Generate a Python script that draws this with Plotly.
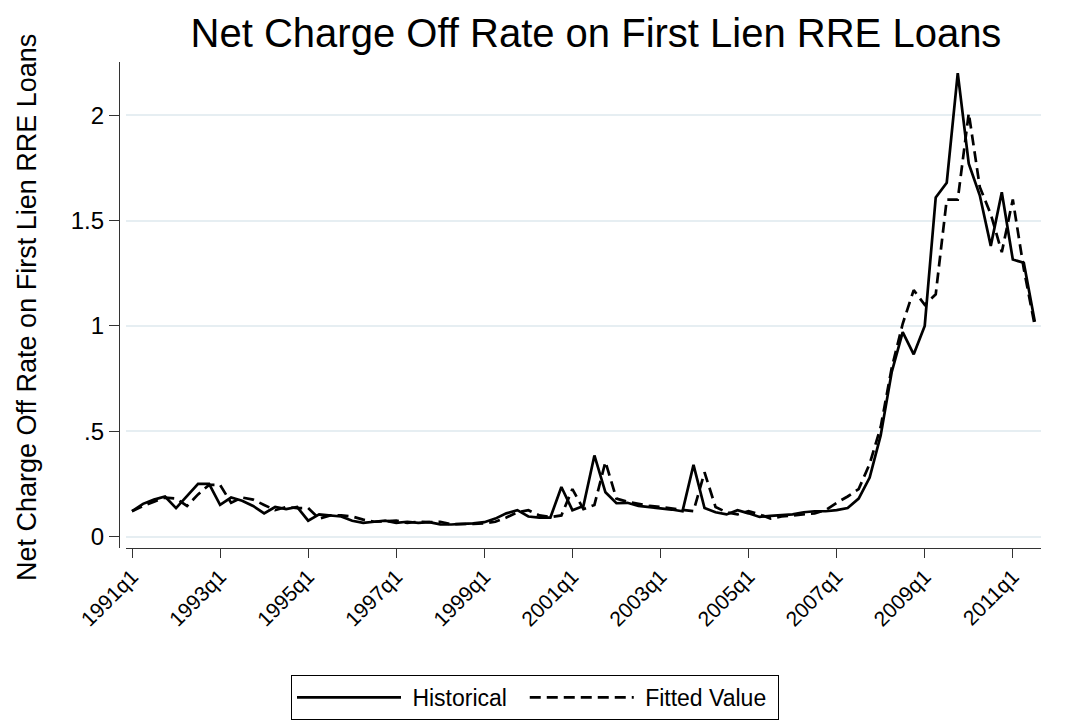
import plotly.graph_objects as go

W, H = 1065, 725

# quarters 1991q1 .. 2011q3
quarters = [f"{y}q{q}" for y in range(1991, 2012) for q in range(1, 5)][:83]

historical = [
    0.12, 0.155, 0.175, 0.19, 0.135, 0.19, 0.25, 0.25,
    0.15, 0.185, 0.17, 0.145, 0.11, 0.14, 0.13, 0.14,
    0.075, 0.105, 0.10, 0.095, 0.075, 0.065, 0.07, 0.075,
    0.065, 0.07, 0.065, 0.068, 0.058, 0.057, 0.06, 0.062,
    0.068, 0.085, 0.11, 0.125, 0.095, 0.09, 0.09, 0.235,
    0.125, 0.145, 0.385, 0.21, 0.158, 0.16, 0.145, 0.14,
    0.135, 0.128, 0.12, 0.34, 0.135, 0.115, 0.105, 0.125,
    0.11, 0.093, 0.098, 0.10, 0.105, 0.115, 0.12, 0.12,
    0.125, 0.135, 0.18, 0.28, 0.48, 0.78, 0.97, 0.865,
    1.0, 1.61, 1.68, 2.20, 1.77, 1.62, 1.38, 1.635,
    1.315, 1.30, 1.02,
]

fitted = [
    0.12, 0.145, 0.165, 0.185, 0.18, 0.145, 0.20, 0.245,
    0.245, 0.16, 0.185, 0.175, 0.15, 0.125, 0.14, 0.135,
    0.135, 0.085, 0.10, 0.10, 0.095, 0.08, 0.07, 0.072,
    0.075, 0.065, 0.07, 0.068, 0.07, 0.058, 0.058, 0.06,
    0.063, 0.07, 0.09, 0.115, 0.125, 0.10, 0.092, 0.10,
    0.225, 0.13, 0.15, 0.355, 0.18, 0.165, 0.155, 0.145,
    0.14, 0.133, 0.125, 0.12, 0.305, 0.14, 0.115, 0.105,
    0.12, 0.105, 0.085, 0.095, 0.10, 0.105, 0.11, 0.125,
    0.16, 0.19, 0.225, 0.345, 0.52, 0.80, 1.01, 1.17,
    1.10, 1.15, 1.60, 1.60, 2.01, 1.66, 1.53, 1.35,
    1.60, 1.27, 1.00,
]

x_ticks = quarters[::8]
y_ticks = [0, 0.5, 1, 1.5, 2]
y_ticktext = ["0", ".5", "1", "1.5", "2"]

FONT = "Liberation Sans, Arial, Helvetica, sans-serif"
GRID = "#e6eef2"
NBSP = "\u00a0"

# plot region in pixels (Stata-like: y axis line sits left of the region)
left, right, top, bottom = 118, 1033, 54, 540
first_tick = 124
step = 11.01
x0 = (left - first_tick) / step
x1 = (right - first_tick) / step
zero_px, y_per = 528.5, 210.6
y0 = -(bottom - zero_px) / y_per
y1 = (zero_px - top) / y_per

fig = go.Figure()
fig.add_trace(go.Scatter(
    x=quarters, y=historical, mode="lines",
    name=NBSP + "Historical" + NBSP * 2,
    line={"color": "black", "width": 2.7},
))
fig.add_trace(go.Scatter(
    x=quarters, y=fitted, mode="lines",
    name=NBSP + "Fitted Value" + NBSP,
    line={"color": "black", "width": 2.7, "dash": "11px,6px"},
))

fig.update_layout(
    width=W, height=H,
    margin={"l": 0, "r": 0, "t": 0, "b": 0},
    paper_bgcolor="white", plot_bgcolor="white",
    font={"family": FONT, "color": "black", "size": 20},
    title={
        "text": "Net Charge Off Rate on First Lien RRE Loans",
        "x": 588 / W, "xanchor": "center",
        "y": 1 - 25 / H, "yanchor": "middle",
        "font": {"size": 40, "family": FONT, "color": "black"},
    },
    xaxis={
        "type": "category", "domain": [left / W, right / W],
        "range": [x0, x1], "autorange": False,
        "tickmode": "array", "tickvals": x_ticks, "ticktext": x_ticks,
        "tickangle": -45, "ticks": "outside", "ticklen": 9, "tickwidth": 1.3,
        "tickcolor": "#333", "showline": True, "linecolor": "#333", "linewidth": 1.3,
        "showgrid": False, "zeroline": False, "automargin": False,
        "ticklabelstandoff": -2,
        "tickfont": {"size": 21},
    },
    yaxis={
        "domain": [1 - bottom / H, 1 - top / H],
        "range": [y0, y1], "autorange": False,
        "anchor": "free", "position": 111 / W,
        "tickmode": "array", "tickvals": y_ticks, "ticktext": y_ticktext,
        "ticks": "outside", "ticklen": 10, "tickwidth": 1.3, "tickcolor": "#333",
        "showline": True, "linecolor": "#333", "linewidth": 1.3,
        "showgrid": True, "gridcolor": GRID, "gridwidth": 2,
        "zeroline": False, "automargin": False,
        "tickfont": {"size": 24},
    },
    legend={
        "orientation": "h", "x": 527 / W, "xanchor": "center",
        "y": 1 - 667 / H, "yanchor": "top",
        "bordercolor": "black", "borderwidth": 1, "bgcolor": "white",
        "font": {"size": 23}, "itemwidth": 104,
    },
    annotations=[{
        "text": "Net Charge Off Rate on First Lien RRE Loans",
        "xref": "paper", "yref": "paper", "x": 19 / W, "y": 1 - 300 / H,
        "xanchor": "center", "yanchor": "middle",
        "textangle": -90, "showarrow": False,
        "font": {"size": 27, "family": FONT, "color": "black"},
    }],
)

fig.write_html("out.html")
